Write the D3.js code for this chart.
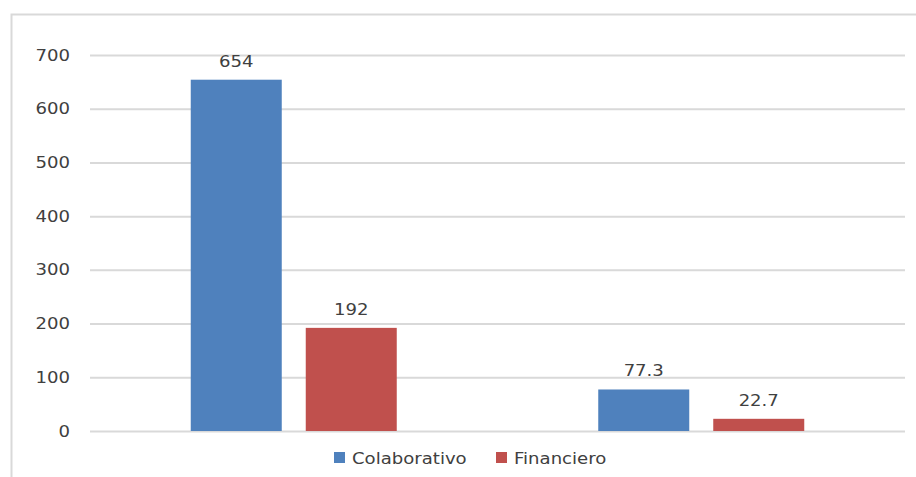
<!DOCTYPE html>
<html>
<head>
<meta charset="utf-8">
<script src="https://cdn.jsdelivr.net/npm/d3@7"></script>
<style>
  body { margin: 0; background: #fff; }
  svg text { font-family: "DejaVu Sans", Verdana, sans-serif; fill: #404040; }
</style>
</head>
<body>
<div id="viz"></div>
<script>
'use strict';

const categories = ['A', 'B'];
const seriesNames = ['Colaborativo', 'Financiero'];
const colaborativo = [654, 77.3];
const financiero = [192, 22.7];
const yTicks = [0, 100, 200, 300, 400, 500, 600, 700];
const colors = ['#4f81bd', '#c0504d'];

const W = 916, H = 477;
const margin = {top: 55, right: 11, bottom: 46, left: 90};
const width = W - margin.left - margin.right;
const height = H - margin.top - margin.bottom;
const STRETCH = 1.13;

// the source text is a bit wider than DejaVu, so stretch it horizontally
function stretch(sel) {
  sel.each(function() {
    const t = d3.select(this);
    const tx = +t.attr('x') || 0;
    const ty = +t.attr('y') || 0;
    t.attr('x', 0).attr('y', 0)
      .attr('transform', `translate(${tx},${ty}) scale(${STRETCH},1)`);
  });
}

const svg = d3.select('#viz')
  .append('svg')
    .attr('width', W)
    .attr('height', H);

// chart frame
svg.append('path')
  .attr('d', `M11.5,${H} V14.5 H${W}`)
  .attr('fill', 'none')
  .attr('stroke', '#d9d9d9')
  .attr('stroke-width', 2);

const g = svg.append('g')
  .attr('transform', `translate(${margin.left},${margin.top})`);

const x0 = d3.scaleBand()
  .domain(categories)
  .range([0, width]);

const x1 = d3.scaleBand()
  .domain(seriesNames)
  .range([x0.bandwidth() / 2 - 103, x0.bandwidth() / 2 + 103])
  .paddingInner(24 / 115);

const y = d3.scaleLinear()
  .domain([0, 700])
  .range([height, 0]);

// gridlines
g.append('g')
  .selectAll('line')
  .data(yTicks)
  .join('line')
    .attr('x1', 0)
    .attr('x2', width)
    .attr('y1', d => y(d) + 0.5)
    .attr('y2', d => y(d) + 0.5)
    .attr('stroke', '#d9d9d9')
    .attr('stroke-width', 2);

// y axis labels
const yAxis = g.append('g')
  .call(d3.axisLeft(y).tickValues(yTicks).tickSize(0).tickPadding(20));
yAxis.select('.domain').remove();
yAxis.selectAll('text')
  .style('font-size', '16px')
  .attr('fill', '#404040')
  .call(stretch);

const rows = categories.map((c, i) => ({
  cat: c,
  values: [
    {name: seriesNames[0], value: colaborativo[i], color: colors[0]},
    {name: seriesNames[1], value: financiero[i], color: colors[1]}
  ]
}));

const groups = g.selectAll('.grp')
  .data(rows)
  .join('g')
    .attr('class', 'grp')
    .attr('transform', d => `translate(${x0(d.cat)},0)`);

groups.selectAll('rect')
  .data(d => d.values)
  .join('rect')
    .attr('x', d => x1(d.name))
    .attr('width', x1.bandwidth())
    .attr('y', d => y(d.value))
    .attr('height', d => y(0) - y(d.value))
    .attr('fill', d => d.color);

groups.selectAll('text.lbl')
  .data(d => d.values)
  .join('text')
    .attr('class', 'lbl')
    .attr('x', d => x1(d.name) + x1.bandwidth() / 2)
    .attr('y', d => y(d.value) - 13)
    .attr('text-anchor', 'middle')
    .style('font-size', '16px')
    .text(d => d.value)
    .call(stretch);

// legend
const legend = svg.append('g')
  .attr('transform', `translate(0,${H - 19})`);

const legendX = [334, 496];
seriesNames.forEach((name, i) => {
  legend.append('rect')
    .attr('x', legendX[i])
    .attr('y', -6)
    .attr('width', 11)
    .attr('height', 11)
    .attr('fill', colors[i]);
  legend.append('text')
    .attr('x', legendX[i] + 18)
    .attr('y', 6)
    .style('font-size', '16px')
    .text(name)
    .call(stretch);
});
</script>
</body>
</html>
